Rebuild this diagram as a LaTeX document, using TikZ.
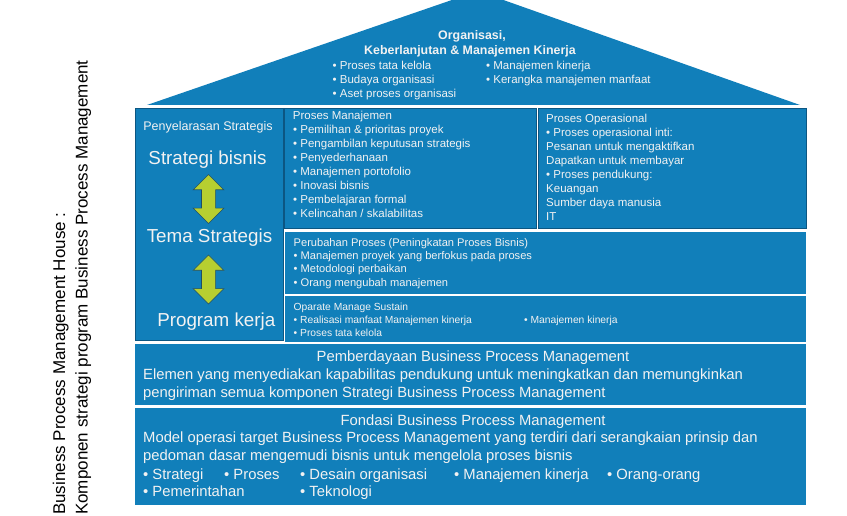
\documentclass[tikz,border=0pt]{standalone}
\usepackage{fontspec}
\setmainfont{Liberation Sans}
\usetikzlibrary{shapes.arrows, calc}
\definecolor{housebl}{RGB}{17,127,186}
\definecolor{edgebl}{RGB}{12,86,130}
\definecolor{arrowgr}{RGB}{183,207,48}
\definecolor{arrowedge}{RGB}{32,78,100}
\definecolor{textwh}{RGB}{242,242,242}

\begin{document}
\begin{tikzpicture}[x=1pt, y=-1pt,
  panel/.style={fill=housebl, draw=edgebl, line width=0.9pt},
  band/.style={fill=housebl},
  txt/.style={text=textwh, inner sep=0pt, anchor=base west},
  centred/.style={txt, anchor=base},
  small/.style={font=\fontsize{11.5}{14}\selectfont},
  tiny/.style={font=\fontsize{11.1}{13}\selectfont},
  tinier/.style={font=\fontsize{10.3}{12}\selectfont},
  big/.style={font=\fontsize{18.8}{22}\selectfont},
  wide/.style={font=\fontsize{14.8}{18}\selectfont},
  updown/.style={double arrow, rotate=90, fill=arrowgr, draw=arrowedge, line width=0.6pt,
    minimum height=49pt, minimum width=0pt, inner xsep=0pt, inner ysep=6.75pt,
    double arrow head extend=8.25pt, double arrow tip angle=90}
]
  \clip (0,0) rectangle (847,516);

  % Roof
  \fill[housebl] (147,105) -- (478,-9) -- (800,105) -- cycle;
  \node[centred, font=\bfseries\fontsize{12.4}{14}\selectfont] (roof-a) at (472,39.5) {Organisasi,};
  \node[centred, font=\bfseries\fontsize{12.4}{14}\selectfont] (roof-b) at (470,55) {Keberlanjutan \& Manajemen Kinerja};
  \foreach \txt [count=\i] in {Proses tata kelola, Budaya organisasi, Aset proses organisasi}
    \node[txt, small] (roof-l\i) at (332.5,56+14*\i) {\textbullet\ \txt};
  \foreach \txt [count=\i] in {Manajemen kinerja, Kerangka manajemen manfaat}
    \node[txt, small] (roof-r\i) at (486,56+14*\i) {\textbullet\ \txt};

  % Walls
  \path[panel] (135.5,108) rectangle (283,340.5);
  \path[panel] (284.5,108) rectangle (536.5,228.5);
  \path[panel] (538,108) rectangle (806.5,228.5);
  \path[band] (285,232) rectangle (806,293.5);
  \path[band] (285,296) rectangle (806,342);
  \path[band] (135,343.5) rectangle (806,405);
  \path[band] (135,408) rectangle (806,505);

  % Strategy column
  \node[centred, font=\fontsize{12.5}{15}\selectfont] (align) at (208,130.5) {Penyelarasan Strategis};
  \node[centred, big] (bisnis) at (207.5,165) {Strategi bisnis};
  \node[centred, big] (tema) at (209.5,242.7) {Tema Strategis};
  \node[centred, big] (program) at (216.3,326) {Program kerja};
  \node[updown] (arrow1) at ($(bisnis.south)!0.5!(tema.north)$) {};
  \coordinate (gap2) at ($(tema.south)!0.5!(program.north)$);
  \node[updown] (arrow2) at (arrow1 |- gap2) {};

  % Proses Manajemen
  \node[txt, small] (pm) at (292.7,120) {Proses Manajemen};
  \foreach \txt [count=\i] in {Pemilihan \& prioritas proyek, Pengambilan keputusan strategis,
      Penyederhanaan, Manajemen portofolio, Inovasi bisnis, Pembelajaran formal,
      Kelincahan / skalabilitas}
    \node[txt, small] (pm-\i) at (293,120+13.9*\i) {\textbullet\ \txt};

  % Proses Operasional
  \foreach \txt [count=\i from 0] in {Proses Operasional, \textbullet\ Proses operasional inti:,
      Pesanan untuk mengaktifkan, Dapatkan untuk membayar, \textbullet\ Proses pendukung:,
      Keuangan, Sumber daya manusia, IT}
    \node[txt, small] (po-\i) at (546,122.3+14.1*\i) {\txt};

  % Perubahan Proses
  \node[txt, tiny] (chg) at (293.5,246.3) {Perubahan Proses (Peningkatan Proses Bisnis)};
  \foreach \txt [count=\i] in {Manajemen proyek yang berfokus pada proses,
      Metodologi perbaikan, Orang mengubah manajemen}
    \node[txt, tiny] (chg-\i) at (293.5,246.3+13.3*\i) {\textbullet\ \txt};

  % Operate
  \node[txt, tinier] (oms) at (293.5,310.7) {Oparate Manage Sustain};
  \node[txt, tinier] (oms-1) at (293.5,323.5) {\textbullet\ Realisasi manfaat Manajemen kinerja};
  \node[txt, tinier] (oms-2) at (524,323.5) {\textbullet\ Manajemen kinerja};
  \node[txt, tinier] (oms-3) at (293.5,336.5) {\textbullet\ Proses tata kelola};

  % Pemberdayaan
  \node[centred, wide] (enable) at (473,361.7) {Pemberdayaan Business Process Management};
  \node[txt, wide] (enable-1) at (143,379.3) {Elemen yang menyediakan kapabilitas pendukung untuk meningkatkan dan memungkinkan};
  \node[txt, wide] (enable-2) at (143,397.3) {pengiriman semua komponen Strategi Business Process Management};

  % Fondasi
  \node[centred, wide] (base) at (473,425) {Fondasi Business Process Management};
  \node[txt, wide] (base-1) at (143,442.7) {Model operasi target Business Process Management yang terdiri dari serangkaian prinsip dan};
  \node[txt, wide] (base-2) at (143,460.7) {pedoman dasar mengemudi bisnis untuk mengelola proses bisnis};
  \foreach \x/\txt [count=\i] in {143/Strategi, 224/Proses, 300/Desain organisasi,
      454/Manajemen kinerja, 607/Orang-orang}
    \node[txt, wide] (base-a\i) at (\x,479.3) {\textbullet\ \txt};
  \node[txt, wide] (base-b1) at (143,496.7) {\textbullet\ Pemerintahan};
  \node[txt, wide] (base-b2) at (300,496.7) {\textbullet\ Teknologi};

  % Side title
  \node[txt, text=black, rotate=90, font=\fontsize{17}{22}\selectfont] (house) at (65,515) {Business Process Management House :};
  \node[txt, text=black, rotate=90, font=\fontsize{17}{22}\selectfont] (housesub) at (87.5,515) {Komponen strategi program Business Process Management};
\end{tikzpicture}
\end{document}
